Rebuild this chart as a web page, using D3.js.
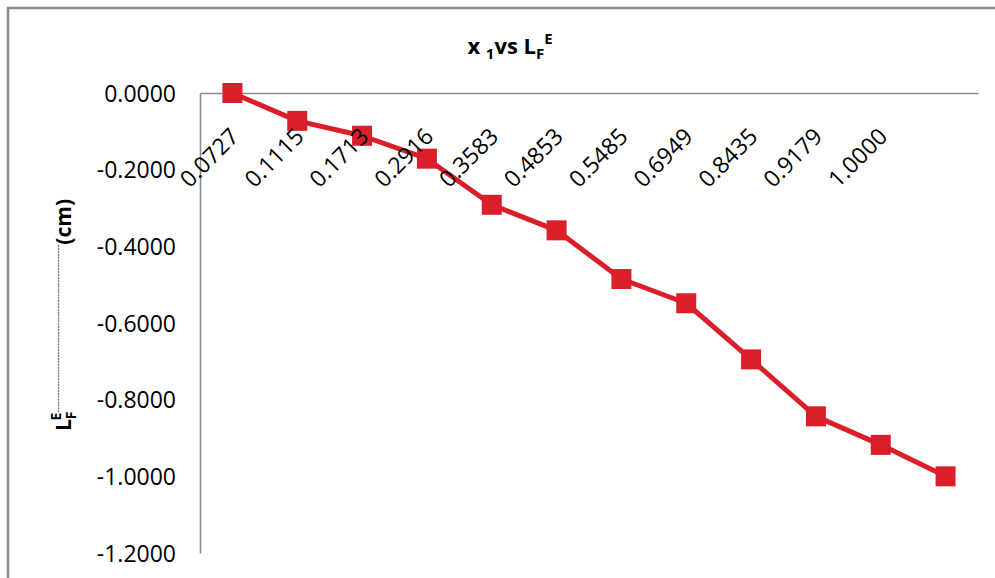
<!DOCTYPE html>
<html>
<head>
<meta charset="utf-8">
<script src="https://cdn.jsdelivr.net/npm/d3@7"></script>
<style>
  body { margin: 0; background: #fff; }
  svg text { font-family: "Open Sans", "Liberation Sans", sans-serif; fill: #000; }
</style>
</head>
<body>
<svg id="chart" width="995" height="578"></svg>
<script>
// Category labels along the x axis (mole fraction x1); the last point has no label
const categories = ["0.0727", "0.1115", "0.1713", "0.2916", "0.3583", "0.4853",
                    "0.5485", "0.6949", "0.8435", "0.9179", "1.0000", ""];
// Series values L_F^E (cm)
const values = [0.0000, -0.0727, -0.1115, -0.1713, -0.2916, -0.3583,
                -0.4853, -0.5485, -0.6949, -0.8435, -0.9179, -1.0000];
// Y axis tick values
const yTicks = [0.0, -0.2, -0.4, -0.6, -0.8, -1.0, -1.2];

const svg = d3.select("#chart");
const plot = { left: 200, right: 978, top: 93, bottom: 553 };
const red = "#da1f2a";
const axisGrey = "#8c8c8c";

// Outer chart frame
svg.append("rect")
  .attr("x", 8).attr("y", 8)
  .attr("width", 1100).attr("height", 700)
  .attr("fill", "none").attr("stroke", axisGrey).attr("stroke-width", 2.5);

const x = d3.scaleBand()
  .domain(d3.range(categories.length))
  .range([plot.left, plot.right]);

const y = d3.scaleLinear()
  .domain([0, -1.2])
  .range([plot.top, plot.bottom]);

// Y axis
const yAxis = d3.axisLeft(y)
  .tickValues(yTicks)
  .tickSize(0)
  .tickPadding(24)
  .tickFormat(d3.format(".4f"));

const gy = svg.append("g")
  .attr("transform", `translate(${plot.left},0)`)
  .call(yAxis);
gy.select(".domain").attr("stroke", axisGrey).attr("stroke-width", 1.6);
gy.selectAll("text")
  .attr("font-size", 23)
  .attr("dy", "0.36em")
  .text(d => d3.format(".4f")(d).replace("−", "-"));

// X axis line at y = 0
const gx = svg.append("g")
  .attr("transform", `translate(0,${y(0)})`)
  .call(d3.axisBottom(x).tickSize(0).tickFormat(""));
gx.select(".domain").attr("stroke", axisGrey).attr("stroke-width", 1.6);

// Series line
const line = d3.line()
  .x((d, i) => x(i) + x.bandwidth() / 2)
  .y(d => y(d));

svg.append("path")
  .datum(values)
  .attr("d", line)
  .attr("fill", "none")
  .attr("stroke", red)
  .attr("stroke-width", 5)
  .attr("stroke-linejoin", "round");

// Square markers
const m = 20;
svg.append("g")
  .selectAll("rect")
  .data(values)
  .join("rect")
  .attr("x", (d, i) => x(i) + x.bandwidth() / 2 - m / 2)
  .attr("y", d => y(d) - m / 2)
  .attr("width", m).attr("height", m)
  .attr("fill", red);

// Rotated category labels, drawn above the series
svg.append("g")
  .selectAll("text")
  .data(categories)
  .join("text")
  .attr("transform", (d, i) => `translate(${x(i) + x.bandwidth() / 2 + 8},138) rotate(-45)`)
  .attr("text-anchor", "end")
  .attr("font-size", 23)
  .text(d => d);

// Chart title: x 1vs LF^E
const title = svg.append("text")
  .attr("x", 510).attr("y", 54)
  .attr("text-anchor", "middle")
  .attr("font-size", 22)
  .attr("font-weight", "bold");
title.append("tspan").text("x ");
title.append("tspan").attr("font-size", 15).attr("dy", 5).text("1");
title.append("tspan").attr("dy", -5).text("vs L");
title.append("tspan").attr("font-size", 15).attr("dy", 5).text("F");
title.append("tspan").attr("font-size", 15).attr("dy", -15).text("E");

// Y axis title: LF^E-----------(cm)
const yTitle = svg.append("text")
  .attr("transform", "translate(71,431) rotate(-90)")
  .attr("text-anchor", "start")
  .attr("font-size", 21)
  .attr("font-weight", "bold");
yTitle.append("tspan").text("L");
yTitle.append("tspan").attr("font-size", 14).attr("dy", 5).text("F");
yTitle.append("tspan").attr("font-size", 14).attr("dx", -9).attr("dy", -15).text("E");
yTitle.append("tspan").attr("font-size", 9).attr("font-weight", "normal")
  .text("-".repeat(58));
yTitle.append("tspan").attr("dy", 10).text("(cm)");
</script>
</body>
</html>
